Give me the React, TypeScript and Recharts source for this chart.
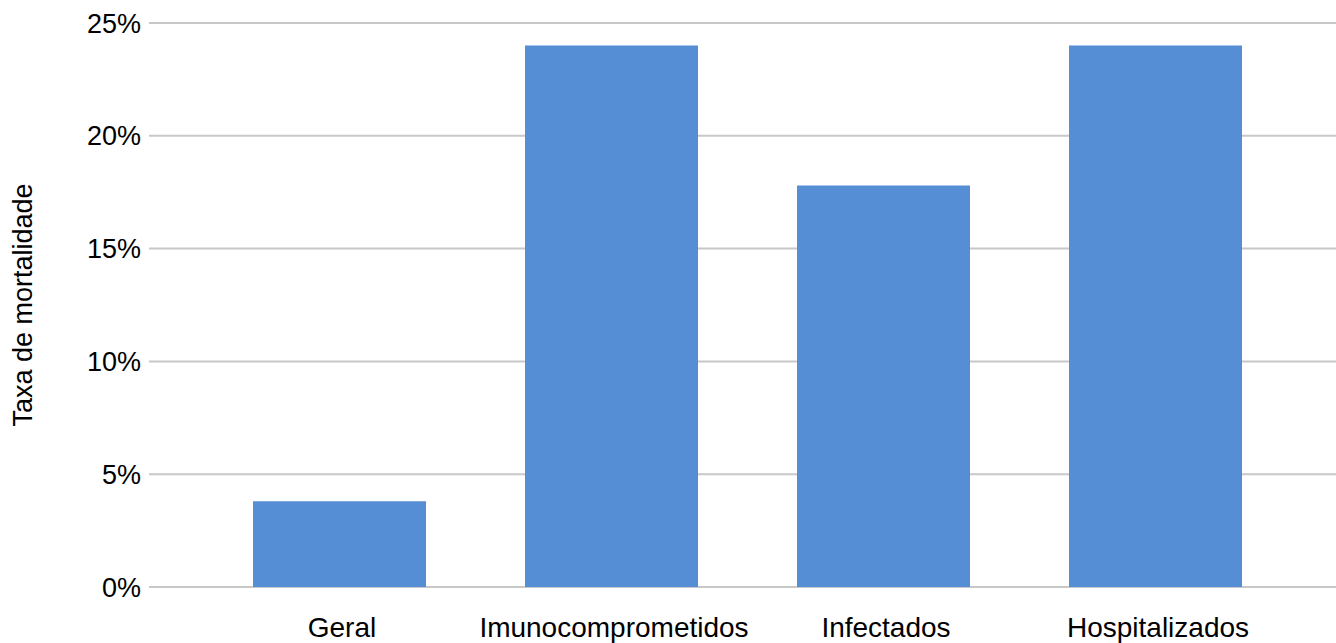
import { BarChart, Bar, XAxis, YAxis, CartesianGrid } from 'recharts';

// Taxa de mortalidade por grupo (%)
const grupos = ['Geral', 'Imunocomprometidos', 'Infectados', 'Hospitalizados'];
const taxas = [3.8, 24, 17.8, 24];
const ticksY = [0, 5, 10, 15, 20, 25];

const dados = grupos.map((grupo, i) => ({ grupo, taxa: taxas[i] }));

const FONTE = 'Liberation Sans, Arial, sans-serif';
const AZUL = '#558ed5';

export default function App() {
  return (
    <div style={{ position: 'absolute', left: 0, top: 0, background: '#fff' }}>
      <BarChart
        width={1336}
        height={643}
        data={dados}
        margin={{ top: 23, right: 0, left: 0, bottom: 0 }}
      >
        <CartesianGrid vertical={false} stroke="#c8c8c8" strokeWidth={2} />
        <XAxis
          dataKey="grupo"
          height={56}
          padding={{ left: 54, right: 45 }}
          axisLine={false}
          tickLine={false}
          tickMargin={24}
          tick={{ fill: '#000', fontSize: 28, fontFamily: FONTE, dx: 3 }}
          interval={0}
        />
        <YAxis
          width={149}
          domain={[0, 25]}
          ticks={ticksY}
          tickFormatter={(v) => `${v}%`}
          axisLine={false}
          tickLine={false}
          tick={{ fill: '#000', fontSize: 27, fontFamily: FONTE }}
          label={{
            value: 'Taxa de mortalidade',
            angle: -90,
            position: 'insideLeft',
            offset: 22,
            style: { textAnchor: 'middle', fill: '#000', fontSize: 27, fontFamily: FONTE },
          }}
        />
        <Bar dataKey="taxa" fill={AZUL} barSize={173} isAnimationActive={false} />
      </BarChart>
    </div>
  );
}
